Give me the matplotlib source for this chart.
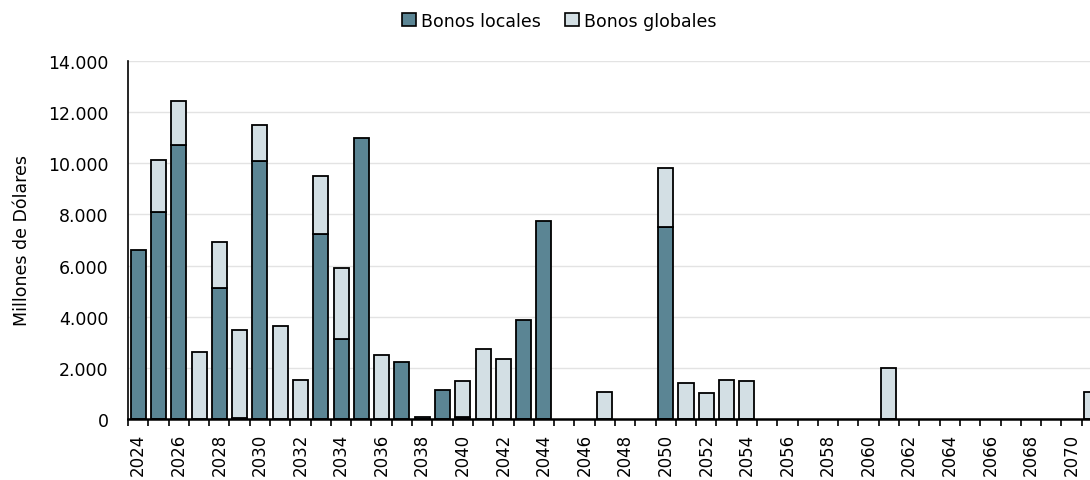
import numpy as np
import matplotlib
matplotlib.use("Agg")
import matplotlib.pyplot as plt
from matplotlib.patches import Patch
from matplotlib.ticker import FuncFormatter, MultipleLocator

plt.rcParams['font.family'] = ['DejaVu Sans']

years = list(range(2024, 2072))

# Vencimientos en millones de dólares
bonos_locales = [
    6620, 8080, 10730, 0, 5120, 50, 10100, 0, 0, 7230,
    3140, 10990, 0, 2230, 80, 1150, 60, 0, 0, 3860,
    7730, 0, 0, 0, 0, 0, 7490, 0, 0, 0,
    0, 0, 0, 0, 0, 0, 0, 0, 0, 0,
    0, 0, 0, 0, 0, 0, 0, 0,
]
bonos_globales = [
    0, 2050, 1690, 2630, 1810, 3440, 1400, 3620, 1510, 2260,
    2780, 0, 2500, 0, 0, 0, 1440, 2740, 2360, 0,
    0, 0, 0, 1070, 0, 0, 2340, 1410, 1030, 1530,
    1470, 0, 0, 0, 0, 0, 0, 2000, 0, 0,
    0, 0, 0, 0, 0, 0, 0, 1040,
]

col_local = '#5B8594'
col_global = '#D3DFE4'

fig = plt.figure(figsize=(10.9, 4.81), dpi=100)
ax = fig.add_axes([128 / 1090, 61 / 481, 1 - 128 / 1090, 358 / 481])

x = np.arange(len(years))
loc = np.array(bonos_locales, dtype=float)
glo = np.array(bonos_globales, dtype=float)
w = 0.74

m = loc > 0
ax.bar(x[m], loc[m], width=w, color=col_local, edgecolor='black', linewidth=1.3, zorder=3)
g = glo > 0
ax.bar(x[g], glo[g], width=w, bottom=loc[g], color=col_global, edgecolor='black',
       linewidth=1.3, zorder=3)

ax.yaxis.set_major_locator(MultipleLocator(2000))
ax.yaxis.set_major_formatter(FuncFormatter(lambda v, p: f"{int(v):,}".replace(",", ".")))
ax.grid(axis='y', color='#E3E3E3', linewidth=1.0, zorder=0)
ax.set_axisbelow(True)

label_pos = x[::2]
ax.set_xticks(label_pos)
ax.set_xticklabels([str(years[i]) for i in label_pos], rotation=90, fontsize=12)
ax.set_xticks(np.arange(-0.5, len(years), 1), minor=True)
ax.tick_params(axis='x', which='major', length=0, pad=10)
ax.tick_params(axis='x', which='minor', length=5, width=1.2, direction='out', color='black')
ax.tick_params(axis='y', length=0, pad=14, labelsize=12.5)

# the last maturity sits at the right border, partly cut off
ax.set_ylim(0, 14000)
ax.set_xlim(-0.5, len(years) - 1.09)

for s in ['top', 'right']:
    ax.spines[s].set_visible(False)
ax.spines['left'].set_linewidth(1.2)
ax.spines['bottom'].set_linewidth(1.8)
ax.spines['bottom'].set_zorder(4)

ax.set_ylabel('Millones de Dólares', fontsize=12.5, labelpad=12)

handles = [Patch(facecolor=col_local, edgecolor='black', linewidth=1.2, label='Bonos locales'),
           Patch(facecolor=col_global, edgecolor='black', linewidth=1.2, label='Bonos globales')]
fig.legend(handles=handles, loc='center', bbox_to_anchor=(0.513, 0.955), ncol=2, frameon=False,
           fontsize=12.5, handlelength=0.8, handleheight=0.8, handletextpad=0.3, columnspacing=1.4)

fig.savefig('out.png', dpi=100)
